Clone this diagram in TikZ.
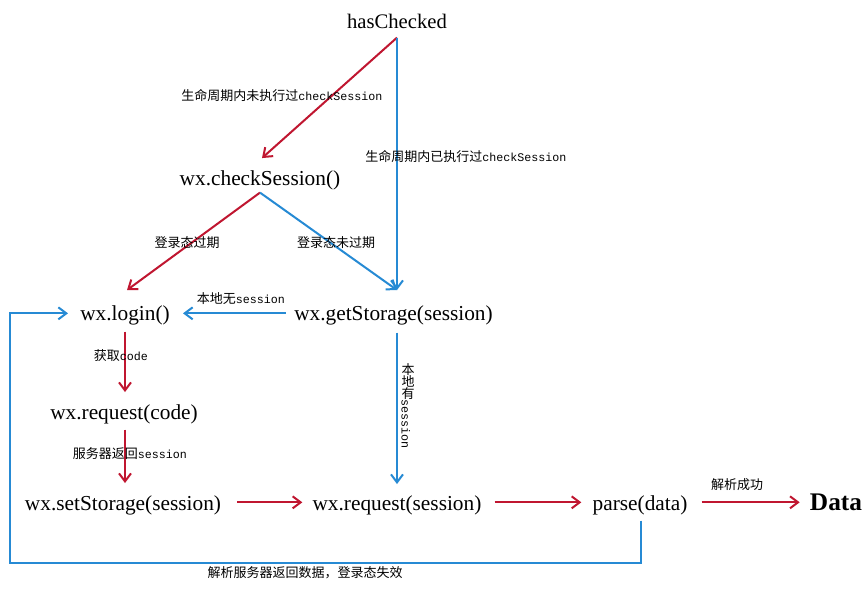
\documentclass[tikz,border=0pt]{standalone}
\usepackage{fontspec}
\setmainfont{Liberation Serif}
\setmonofont{Liberation Mono}
\newfontfamily\cjk{Noto Sans CJK SC}
\usetikzlibrary{arrows.meta,calc}
\definecolor{wred}{RGB}{192,22,48}
\definecolor{wblue}{RGB}{38,138,212}
\newcommand\lt[1]{{\ttfamily\fontsize{8.75pt}{10pt}\selectfont #1}}
\begin{document}
\begin{tikzpicture}[x=0.75pt,y=-0.75pt,
  box/.style={font=\fontsize{16pt}{18pt}\selectfont, inner sep=0pt, text height=11pt, text depth=4pt, anchor=base},
  lbl/.style={font=\cjk\fontsize{9.75pt}{11pt}\selectfont, inner sep=0pt},
  ra/.style={draw=wred, line width=1.5pt, -{Straight Barb[length=6pt,width=9pt]}},
  ba/.style={draw=wblue, line width=1.5pt, -{Straight Barb[length=6pt,width=9pt]}}]
\useasboundingbox[fill=white] (0,0) rectangle (867,589);

% main nodes
\node[box, font=\fontsize{15.5pt}{18pt}\selectfont] (hc) at (397,28) {hasChecked};
\node[box] (cs) at (260,185) {wx.checkSession()};
\node[box] (login) at (125,320) {wx.login()};
\node[box] (gs) at (393.5,320) {wx.getStorage(session)};
\node[box] (rc) at (124,419) {wx.request(code)};
\node[box] (ss) at (123,510) {wx.setStorage(session)};
\node[box] (rs) at (397,510) {wx.request(session)};
\node[box] (pd) at (640,510) {parse(data)};
\node[box, font=\bfseries\fontsize{19pt}{21pt}\selectfont] (dt) at (836,510) {Data};

% helper coordinates
\coordinate (gsin) at ($(hc.south |- gs.north)+(0,-15)$);
\coordinate (loopc) at (10,563);

% connectors
\draw[ra] ($(hc.south)+(0,4)$) -- ($(cs.north)+(2,-12)$);
\draw[ba] ($(hc.south)+(0,4)$) -- (gsin);
\draw[ra] ($(cs.south)+(0,2)$) -- ($(login.north)+(2,-15)$);
\draw[ba] ($(cs.south)+(0,2)$) -- (gsin);
\draw[ba] ($(gs.west)+(-8,-2)$) -- ($(login.east)+(13,-2)$);
\draw[ra] ($(login.south)+(0,6)$) -- ($(login.south |- rc.north)+(0,-12)$);
\draw[ba] ($(hc.south |- gs.south)+(0,7)$) -- ($(hc.south |- rs.north)+(0,-11)$);
\draw[ra] ($(login.south |- rc.south)+(0,5)$) -- ($(login.south |- ss.north)+(0,-12)$);
\draw[ra] ($(ss.east)+(16,-3)$) -- ($(rs.west)+(-10,-3)$);
\draw[ra] ($(rs.east)+(13,-3)$) -- ($(pd.west)+(-11,-3)$);
\draw[ra] ($(pd.east)+(14,-3)$) -- ($(dt.west)+(-10,-3)$);
\draw[ba] ($(pd.south)+(1,5)$) |- (loopc) |- ($(login.west)+(-12,-2)$);

% labels
\node[lbl] (l1) at (282,96) {生命周期内未执行过\lt{checkSession}};
\node[lbl] (l2) at (466,157) {生命周期内已执行过\lt{checkSession}};
\node[lbl] (l3) at (187,243) {登录态过期};
\node[lbl] (l4) at (336,243) {登录态未过期};
\node[lbl] (l5) at (241,299) {本地无\lt{session}};
\node[lbl] (l6) at (121,356) {获取\lt{code}};
\node[lbl, rotate=-90] (l7) at (408,406) {\rotatebox{90}{本}\rotatebox{90}{地}\rotatebox{90}{有}\lt{session}};
\node[lbl] (l8) at (130,454) {服务器返回\lt{session}};
\node[lbl] (l9) at (737,485) {解析成功};
\node[lbl] (l10) at (305,573) {解析服务器返回数据，登录态失效};
\end{tikzpicture}
\end{document}
